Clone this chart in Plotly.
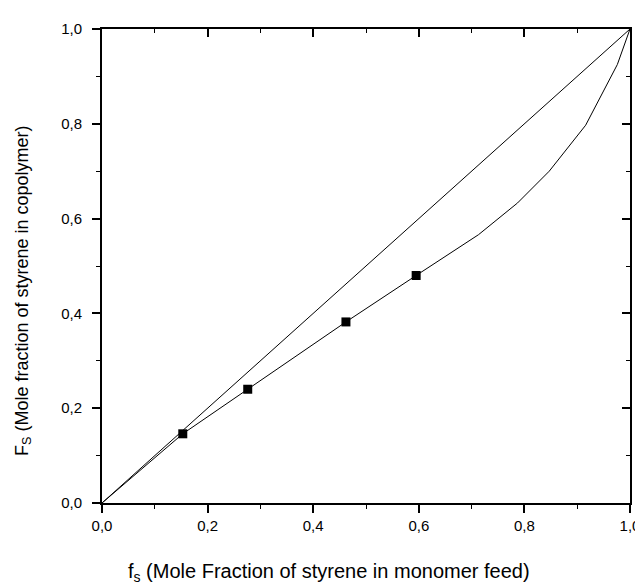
import plotly.graph_objects as go

# Diagonal (ideal) line
diag_x = [0.0, 1.0]
diag_y = [0.0, 1.0]

# Copolymer composition curve
curve_x = [0.0, 0.153, 0.276, 0.462, 0.595, 0.713, 0.787, 0.847, 0.916, 0.976, 1.0]
curve_y = [0.0, 0.146, 0.240, 0.382, 0.480, 0.566, 0.633, 0.700, 0.797, 0.925, 1.0]

# Experimental points
exp_x = [0.153, 0.276, 0.462, 0.595]
exp_y = [0.146, 0.240, 0.382, 0.480]

tick_vals = [0.0, 0.2, 0.4, 0.6, 0.8, 1.0]
tick_text = ["0,0", "0,2", "0,4", "0,6", "0,8", "1,0"]

x_title = "f<sub>s</sub> (Mole Fraction of styrene in monomer feed)"
y_title = "F<sub>S</sub> (Mole fraction of styrene in copolymer)"

FONT = "Liberation Sans, Arial, Helvetica, sans-serif"

fig = go.Figure()
fig.add_trace(go.Scatter(x=diag_x, y=diag_y, mode="lines",
                         line=dict(color="black", width=1), showlegend=False,
                         hoverinfo="skip"))
fig.add_trace(go.Scatter(x=curve_x, y=curve_y, mode="lines",
                         line=dict(color="black", width=1), showlegend=False))
fig.add_trace(go.Scatter(x=exp_x, y=exp_y, mode="markers",
                         marker=dict(symbol="square", size=9, color="black"),
                         showlegend=False))
# invisible trace to activate the top/right axes (inside ticks)
fig.add_trace(go.Scatter(x=diag_x, y=diag_y, xaxis="x2", yaxis="y2", mode="lines",
                         line=dict(color="rgba(0,0,0,0)", width=0), showlegend=False,
                         hoverinfo="skip"))

base = dict(range=[0, 1], showgrid=False, zeroline=False,
            showline=True, linecolor="black", linewidth=1.8,
            tickvals=tick_vals, tickcolor="black", ticklen=8, tickwidth=1.5)

minor_out = dict(ticks="outside", ticklen=4, tickwidth=1.2, tickcolor="black",
                 dtick=0.1, tick0=0)
minor_in = dict(ticks="inside", ticklen=4, tickwidth=1.2, tickcolor="black",
                dtick=0.1, tick0=0)

fig.update_layout(
    width=643, height=588,
    margin=dict(l=94, r=11, t=21, b=93),
    paper_bgcolor="white", plot_bgcolor="white",
    font=dict(family=FONT, color="black"),
    xaxis=dict(**base, mirror=True, ticks="outside", ticktext=tick_text,
               ticklabeloverflow="allow",
               tickfont=dict(family=FONT, size=15, color="black"),
               minor=minor_out),
    yaxis=dict(**base, mirror=True, ticks="outside", ticktext=tick_text,
               ticklabeloverflow="allow",
               tickfont=dict(family=FONT, size=15, color="black"),
               ticklabelstandoff=7, minor=minor_out),
    xaxis2=dict(**base, overlaying="x", side="top", anchor="y2", ticks="inside",
                showticklabels=False, minor=minor_in),
    yaxis2=dict(**base, overlaying="y", side="right", anchor="x2", ticks="inside",
                showticklabels=False, minor=minor_in),
    annotations=[
        dict(text=x_title, xref="paper", yref="paper", x=0.43, y=-0.146,
             xanchor="center", yanchor="middle", showarrow=False,
             font=dict(family=FONT, size=20, color="black")),
        dict(text=y_title, xref="paper", yref="paper", x=-0.150, y=0.449,
             xanchor="center", yanchor="middle", showarrow=False, textangle=-90,
             font=dict(family=FONT, size=18, color="black")),
    ],
)

fig.write_html("out.html")
